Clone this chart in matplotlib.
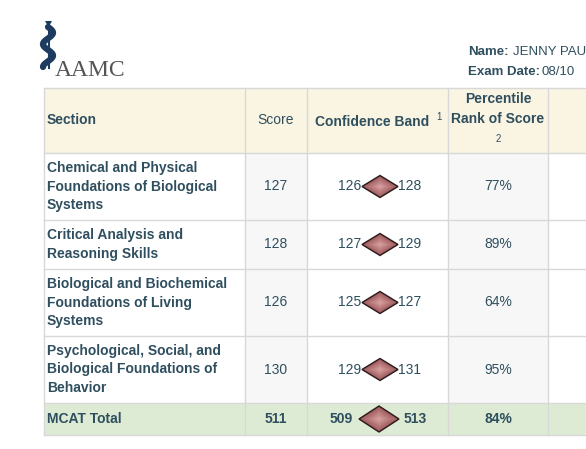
import matplotlib
matplotlib.use("Agg")
import matplotlib.pyplot as plt
from matplotlib.patches import Rectangle, Polygon
import numpy as np

sections = ["Chemical and Physical\nFoundations of Biological\nSystems",
            "Critical Analysis and\nReasoning Skills",
            "Biological and Biochemical\nFoundations of Living\nSystems",
            "Psychological, Social, and\nBiological Foundations of\nBehavior"]
scores = [127, 128, 126, 130]
band_low = [126, 127, 125, 129]
band_high = [128, 129, 127, 131]
percentiles = [77, 89, 64, 95]
total = {"score": 511, "low": 509, "high": 513, "pct": 84}

W, H = 586, 449
fig = plt.figure(figsize=(W/100, H/100), dpi=100)
ax = fig.add_axes([0, 0, 1, 1])
ax.set_xlim(0, W); ax.set_ylim(H, 0); ax.axis("off")

cols = [44, 245, 307, 448, 548, 600]
rows = [88, 153, 220, 269, 336, 403, 435]
txt = "#2f4f5f"
line = "#d8d8d8"
font = "Liberation Sans"
fs = 10

ax.add_patch(Rectangle((cols[0], rows[0]), 560, rows[1]-rows[0], fc="#faf5e3", ec="none"))
for c in (1, 3):
    ax.add_patch(Rectangle((cols[c], rows[1]), cols[c+1]-cols[c], rows[5]-rows[1], fc="#f7f7f7", ec="none"))
ax.add_patch(Rectangle((cols[0], rows[5]), 560, rows[6]-rows[5], fc="#ddebd5", ec="none"))
for y in rows:
    ax.plot([cols[0], W], [y, y], color=line, lw=1)
for x in cols[:-1]:
    ax.plot([x, x], [rows[0], rows[6]], color=line, lw=1)

hy = (rows[0]+rows[1])/2
ax.text(47, hy, "Section", fontsize=fs, fontweight="bold", color=txt, va="center", family=font)
ax.text(276, hy, "Score", fontsize=fs, color=txt, va="center", ha="center", family=font)
ax.text(315, hy+1, "Confidence Band", fontsize=fs, fontweight="bold", color=txt, va="center", ha="left", family=font)
ax.text(439, hy-4, "1", fontsize=7, color=txt, va="center", ha="center", family=font)
ax.text(498, 99, "Percentile", fontsize=fs, fontweight="bold", color=txt, va="center", ha="center", family=font)
ax.text(498, 119, "Rank of Score", fontsize=fs, fontweight="bold", color=txt, va="center", ha="center", family=font)
ax.text(498, 139, "2", fontsize=7, color=txt, va="center", ha="center", family=font)

def diamond(cx, cy, w, h):
    n = 30
    dark = np.array([0.62, 0.35, 0.36]); light = np.array([0.86, 0.64, 0.64])
    for i in range(n):
        f = 1 - i/n
        shade = dark + (light - dark) * (1-f)
        ax.add_patch(Polygon([[cx-w/2*f, cy], [cx, cy-h/2*f], [cx+w/2*f, cy], [cx, cy+h/2*f]],
                             fc=shade, ec="none"))
    ax.add_patch(Polygon([[cx-w/2, cy], [cx, cy-h/2], [cx+w/2, cy], [cx, cy+h/2]], fc="none", ec="#2a1a1a", lw=1))

for i, s in enumerate(sections):
    cy = (rows[i+1]+rows[i+2])/2
    ax.text(47, cy, s, fontsize=fs, fontweight="bold", color=txt, va="center", family=font, linespacing=1.45)
    ax.text(276, cy, str(scores[i]), fontsize=fs, color=txt, va="center", ha="center", family=font)
    ax.text(361, cy, str(band_low[i]), fontsize=fs, color=txt, va="center", ha="right", family=font)
    diamond(380, cy, 36, 22)
    ax.text(398, cy, str(band_high[i]), fontsize=fs, color=txt, va="center", ha="left", family=font)
    ax.text(498, cy, f"{percentiles[i]}%", fontsize=fs, color=txt, va="center", ha="center", family=font)

cy = (rows[5]+rows[6])/2
ax.text(47, cy, "MCAT Total", fontsize=fs, fontweight="bold", color=txt, va="center", family=font)
ax.text(276, cy, str(total["score"]), fontsize=fs, fontweight="bold", color=txt, va="center", ha="center", family=font)
ax.text(353, cy, str(total["low"]), fontsize=fs, fontweight="bold", color=txt, va="center", ha="right", family=font)
diamond(379, cy, 40, 26)
ax.text(404, cy, str(total["high"]), fontsize=fs, fontweight="bold", color=txt, va="center", ha="left", family=font)
ax.text(498, cy, f"{total['pct']}%", fontsize=fs, fontweight="bold", color=txt, va="center", ha="center", family=font)

ax.text(468, 52, "Name:", fontsize=9.5, fontweight="bold", color=txt, va="center", family=font)
ax.text(513, 52, "JENNY PAUL", fontsize=9.5, color=txt, va="center", family=font)
ax.text(468, 72, "Exam Date:", fontsize=9.5, fontweight="bold", color=txt, va="center", family=font)
ax.text(541, 72, "08/10", fontsize=9.5, color=txt, va="center", family=font)

ax.text(55, 71, "AAMC", fontsize=17, color="#555555", va="center", family="Liberation Serif")
t = np.linspace(0, 1, 60)
ax.plot(48 + 5*np.sin(t*3.5*np.pi), 27 + 40*t, color="#1d3a5f", lw=4.5, solid_capstyle="round")
ax.plot([49, 49], [22, 68], color="#1d3a5f", lw=1.5)
ax.add_patch(Polygon([[45, 21], [52, 21], [48.5, 27]], fc="#1d3a5f"))

fig.savefig("out.png", dpi=100)
